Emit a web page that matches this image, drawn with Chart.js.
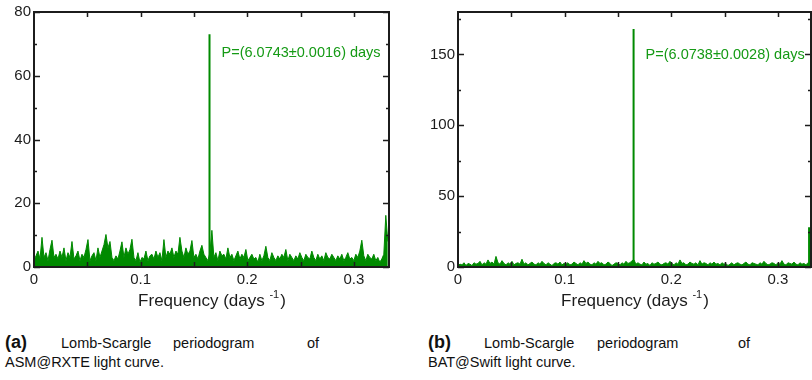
<!DOCTYPE html>
<html>
<head>
<meta charset="utf-8">
<script src="https://cdn.jsdelivr.net/npm/chart.js@4/dist/chart.umd.min.js"></script>
<style>
  html, body { margin: 0; padding: 0; background: #fff; }
  body { width: 812px; height: 380px; position: relative; overflow: hidden; font-family: "Liberation Sans", Arial, sans-serif; }
  canvas { position: absolute; top: 0; }
  #cA { left: 0; }
  #cB { left: 400px; }
  .w { position: absolute; font-size: 14.5px; color: #111; line-height: 19px; white-space: nowrap; }
  .w b { font-size: 18px; }
</style>
</head>
<body>
<canvas id="cA" width="400" height="320"></canvas>
<canvas id="cB" width="412" height="320"></canvas>

<span class="w" style="left:5px; top:333px;"><b>(a)</b></span>
<span class="w" style="left:61px; top:334px;">Lomb-Scargle</span>
<span class="w" style="left:173px; top:334px;">periodogram</span>
<span class="w" style="left:307px; top:334px;">of</span>
<span class="w" style="left:5px; top:353px;">ASM@RXTE light curve.</span>

<span class="w" style="left:428px; top:333px;"><b>(b)</b></span>
<span class="w" style="left:484px; top:334px;">Lomb-Scargle</span>
<span class="w" style="left:597px; top:334px;">periodogram</span>
<span class="w" style="left:738px; top:334px;">of</span>
<span class="w" style="left:428px; top:353px;">BAT@Swift light curve.</span>

<script>
// Frequency grid spacing (days^-1) of the sampled periodograms
const freqStep = 0.001875;

// ASM@RXTE periodogram power (noise floor), one value per grid frequency
const powerA = [
  2, 3.5, 5, 2.5, 9.3, 3, 4.5, 2, 5.5, 8.4,
  3, 4, 2.5, 5, 3, 6, 2, 4.5, 3, 8,
  2.5, 3.5, 5, 2, 4, 3, 5.5, 8.6, 2, 3.5,
  4.5, 2, 6, 3, 5, 7, 10.2, 6, 8, 3,
  2, 3.5, 2.5, 5, 7.9, 3, 6, 4, 5.5, 8.7,
  3, 2, 4.5, 1.5, 3, 2.5, 5, 2, 3.5, 4,
  2.5, 5, 3, 4.5, 2, 8.6, 3, 5, 4, 6,
  3, 5, 4, 9.3, 5, 3, 6, 4, 5, 8.3,
  3, 4, 2.5, 5, 6.8, 4, 3, 2, 4.5, 11.5,
  3, 4.5, 2, 5, 3.5, 4, 2.5, 6, 3, 4,
  2, 3.5, 5, 2.5, 4, 3, 5.5, 2, 3, 4,
  2.5, 3, 1.5, 4, 2, 3.5, 6.5, 3, 2, 4.5,
  3, 2, 3.5, 2.5, 4, 3, 5.5, 2, 4, 3,
  2, 3.5, 2.5, 4.5, 3, 2, 4, 3, 2.5, 5,
  3, 2, 4, 2.5, 3.5, 2, 4.5, 3, 2.5, 4,
  3, 2, 3.5, 2.5, 4, 2, 3, 4.5, 2.5, 3,
  2, 4, 3, 5, 8.4, 3.5, 2, 4, 3, 2.5,
  4, 2, 3, 1.5, 2.5, 4, 16.2, 8
];

// BAT@Swift periodogram power (noise floor)
const powerB = [
  1, 2, 1.5, 3, 1, 2.5, 2, 1, 3, 2,
  2.5, 4, 1.5, 3, 2, 5, 2.5, 3.5, 2, 7.5,
  3, 2, 4.5, 2.5, 1.5, 3, 2, 4, 1.5, 2.5,
  3, 2, 5.5, 2, 3, 1.5, 2.5, 3.5, 2, 1.5,
  3, 2, 4, 2.5, 1.5, 3, 2, 1, 2.5, 3,
  2, 3.5, 1.5, 2.5, 2, 3, 1.5, 2, 3.5, 2.5,
  1.5, 3, 2, 4.5, 2.5, 3.5, 2, 1.5, 3, 2,
  4, 2.5, 3, 1.5, 2, 3.5, 2.5, 1, 2, 3,
  2.5, 1.5, 3, 2, 4, 2.5, 3, 4.5, 5, 2,
  3, 2, 1.5, 3.5, 2, 2.5, 1, 3, 2, 2.5,
  3.5, 2, 1.5, 2.5, 3, 2, 4, 2.5, 1.5, 3,
  2, 5, 2.5, 3, 1.5, 2, 3.5, 2.5, 2, 3,
  1.5, 4.5, 2, 3, 2.5, 1.5, 3, 2, 3.5, 2,
  2.5, 1.5, 3, 2, 2.5, 1, 2, 3, 1.5, 2.5,
  3, 2, 1.5, 2.5, 3.5, 2, 1.5, 3, 2.5, 2,
  1.5, 3, 2, 4, 2.5, 1.5, 2, 3, 2.5, 1.5,
  3, 2, 4.5, 2, 1.5, 3, 2.5, 2, 3.5, 2,
  1.5, 3, 2, 2.5, 1.5, 3, 2
];

// Detected periodicities (days) and their peak powers
const periodA = 6.0743, periodErrA = 0.0016, peakPowerA = 73;
const periodB = 6.0738, periodErrB = 0.0028, peakPowerB = 168;
// first harmonic seen in the BAT periodogram
const harmonicFreqB = 0.3292, harmonicPowerB = 28;

// Axis ranges and tick marks
const xMaxA = 0.333, yMaxA = 80;
const xMaxB = 0.331, yMaxB = 180;
const xLabelTicks = [0, 0.1, 0.2, 0.3];
const xMarkTicks = [0.05, 0.1, 0.15, 0.2, 0.25, 0.3];
const yTicksA = [0, 20, 40, 60, 80];
const yMinorA = [10, 30, 50, 70];
const yTicksB = [0, 50, 100, 150];
const yMinorB = [25, 75, 125, 175];

const GREEN = '#008a00';
const TEXT_GREEN = '#159a15';
const INK = '#1c1c1c';
const FONT = '"Liberation Sans", Arial, sans-serif';

const toPoints = arr => arr.map((p, i) => ({ x: i * freqStep, y: p }));
const spike = (f, p) => [{ x: f, y: 0 }, { x: f, y: p }, { x: f, y: 0 }];

// Boxed frame with inward ticks on all four sides, axis title and peak annotation
const framePlugin = {
  id: 'frame',
  afterDatasetsDraw(chart, args, o) {
    const { ctx, chartArea: a, scales: { x, y } } = chart;
    ctx.save();
    ctx.strokeStyle = INK;
    ctx.lineWidth = 1.5;
    ctx.beginPath();
    o.xMarks.forEach(v => {
      const px = Math.round(x.getPixelForValue(v)) + 0.5;
      ctx.moveTo(px, a.bottom); ctx.lineTo(px, a.bottom - 5);
      ctx.moveTo(px, a.top); ctx.lineTo(px, a.top + 5);
    });
    o.yMajor.forEach(v => {
      const py = Math.round(y.getPixelForValue(v)) + 0.5;
      ctx.moveTo(a.left, py); ctx.lineTo(a.left + 6, py);
      ctx.moveTo(a.right, py); ctx.lineTo(a.right - 6, py);
    });
    o.yMinor.forEach(v => {
      const py = Math.round(y.getPixelForValue(v)) + 0.5;
      ctx.moveTo(a.left, py); ctx.lineTo(a.left + 3, py);
      ctx.moveTo(a.right, py); ctx.lineTo(a.right - 3, py);
    });
    ctx.stroke();
    ctx.lineWidth = 2;
    ctx.strokeRect(a.left, a.top, a.right - a.left, a.bottom - a.top);

    // axis title with superscript exponent
    const main = 'Frequency (days ', sup = '-1', close = ')';
    ctx.fillStyle = INK;
    ctx.textBaseline = 'alphabetic';
    ctx.font = '17px ' + FONT;
    const w1 = ctx.measureText(main).width, w3 = ctx.measureText(close).width;
    ctx.font = '11px ' + FONT;
    const w2 = ctx.measureText(sup).width;
    const sx = (a.left + a.right) / 2 - (w1 + w2 + w3) / 2;
    const base = 306;
    ctx.font = '17px ' + FONT;
    ctx.fillText(main, sx, base);
    ctx.font = '11px ' + FONT;
    ctx.fillText(sup, sx + w1, base - 8);
    ctx.font = '17px ' + FONT;
    ctx.fillText(close, sx + w1 + w2 + 1, base);

    // period annotation next to the main peak
    ctx.fillStyle = TEXT_GREEN;
    ctx.font = '14.5px ' + FONT;
    ctx.textBaseline = 'middle';
    ctx.fillText(o.label, x.getPixelForValue(o.labelFreq) + 12, y.getPixelForValue(o.labelPower));
    ctx.restore();
  }
};

function makeChart(id, power, peaks, xMax, yMax, yTicks, yMinor, yWidth, padRight, label, labelFreq, labelPower) {
  const datasets = [{
    data: toPoints(power),
    borderColor: GREEN, backgroundColor: GREEN,
    borderWidth: 1, pointRadius: 0, fill: 'origin', tension: 0
  }];
  peaks.forEach(([f, p]) => datasets.push({
    data: spike(f, p), borderColor: GREEN, borderWidth: 2, pointRadius: 0, fill: false
  }));
  return new Chart(document.getElementById(id), {
    type: 'line',
    data: { datasets },
    options: {
      responsive: false, animation: false, devicePixelRatio: 1,
      layout: { padding: { top: 10, right: padRight, left: 0, bottom: 0 } },
      plugins: {
        legend: { display: false }, tooltip: { enabled: false },
        frame: { xMarks: xMarkTicks, yMajor: yTicks, yMinor: yMinor, label, labelFreq, labelPower }
      },
      scales: {
        x: {
          type: 'linear', min: 0, max: xMax,
          grid: { display: false, drawTicks: false }, border: { display: false },
          afterBuildTicks: s => { s.ticks = xLabelTicks.map(v => ({ value: v })); },
          afterFit: s => { s.height = 53; },
          ticks: {
            padding: 4, color: INK, font: { family: FONT, size: 15 }, maxRotation: 0,
            callback: v => v === 0 ? '0' : v.toFixed(1)
          }
        },
        y: {
          type: 'linear', min: 0, max: yMax,
          grid: { display: false, drawTicks: false }, border: { display: false },
          afterBuildTicks: s => { s.ticks = yTicks.map(v => ({ value: v })); },
          afterFit: s => { s.width = yWidth; },
          ticks: { padding: 3, color: INK, font: { family: FONT, size: 15 } }
        }
      }
    },
    plugins: [framePlugin]
  });
}

const fA = 1 / periodA, fB = 1 / periodB;
makeChart('cA', powerA, [[fA, peakPowerA]], xMaxA, yMaxA, yTicksA, yMinorA, 34, 11,
  'P=(' + periodA.toFixed(4) + '\u00B1' + periodErrA.toFixed(4) + ') days', fA, 67);
makeChart('cB', powerB, [[fB, peakPowerB], [harmonicFreqB, harmonicPowerB]], xMaxB, yMaxB, yTicksB, yMinorB, 58, 1,
  'P=(' + periodB.toFixed(4) + '\u00B1' + periodErrB.toFixed(4) + ') days', fB, 150);
</script>
</body>
</html>
